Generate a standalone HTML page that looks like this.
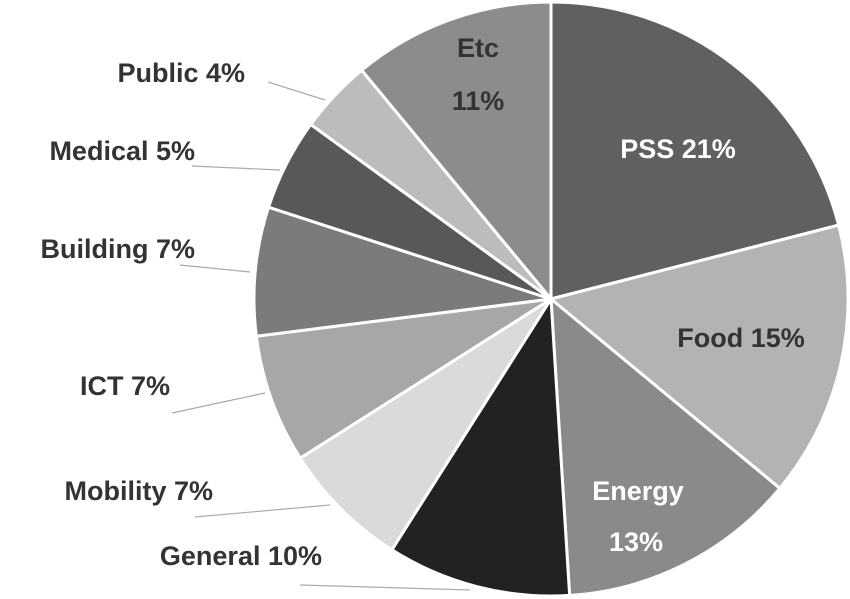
<!DOCTYPE html>
<html><head><meta charset="utf-8"><style>
html,body{margin:0;padding:0;background:#fff;}
svg{display:block;}
text{font-family:"Liberation Sans",sans-serif;font-weight:bold;font-size:27px;}
</style></head><body>
<svg id="chart" width="850" height="599" viewBox="0 0 850 599"></svg>
<script>
const categories=["PSS","Food","Energy","General","Mobility","ICT","Building","Medical","Public","Etc"];
const values=[21,15,13,10,7,7,7,5,4,11];
const colors=["#606060","#b3b3b3","#8a8a8a","#222222","#dadada","#a7a7a7","#7b7b7b","#585858","#bcbcbc","#8c8c8c"];
const cx=551,cy=299,r=297;
const NS="http://www.w3.org/2000/svg";
const svg=document.getElementById('chart');
const total=values.reduce((a,b)=>a+b,0);
function pt(a,rr){return [cx+rr*Math.sin(a),cy-rr*Math.cos(a)];}
let acc=0;
values.forEach((v,i)=>{
  const a0=acc/total*2*Math.PI; acc+=v; const a1=acc/total*2*Math.PI;
  const p0=pt(a0,r),p1=pt(a1,r);
  const p=document.createElementNS(NS,'path');
  p.setAttribute('d',`M${cx},${cy}L${p0[0]},${p0[1]}A${r},${r} 0 ${a1-a0>Math.PI?1:0} 1 ${p1[0]},${p1[1]}Z`);
  p.setAttribute('fill',colors[i]);p.setAttribute('stroke','#fff');p.setAttribute('stroke-width','3');
  
  
  svg.appendChild(p);
});
// leader lines
const leaders=[[268,82,325,100],[192,166,280,170],[180,265,250,272],[172,413,265,393],[195,517,330,505],[300,585,470,590]];
leaders.forEach(l=>{
  const ln=document.createElementNS(NS,'line');
  ln.setAttribute('x1',l[0]);ln.setAttribute('y1',l[1]);ln.setAttribute('x2',l[2]);ln.setAttribute('y2',l[3]);
  ln.setAttribute('stroke','#aaa');ln.setAttribute('stroke-width','1.2');
  
  
  svg.appendChild(ln);
});
// labels: [text, x, y, anchor, color]
const labels=[
 [categories[0]+" "+values[0]+"%",678,158,"middle","#fff"],
 [categories[1]+" "+values[1]+"%",741,347,"middle","#333"],
 [categories[2],638,500,"middle","#fff"],
 [values[2]+"%",636,551,"middle","#fff"],
 [categories[3]+" "+values[3]+"%",322,565,"end","#333"],
 [categories[4]+" "+values[4]+"%",213,500,"end","#333"],
 [categories[5]+" "+values[5]+"%",170,395,"end","#333"],
 [categories[6]+" "+values[6]+"%",195,258,"end","#333"],
 [categories[7]+" "+values[7]+"%",195,160,"end","#333"],
 [categories[8]+" "+values[8]+"%",245,82,"end","#333"],
 [categories[9],478,57,"middle","#333"],
 [values[9]+"%",478,110,"middle","#333"]
];
labels.forEach(l=>{
  const t=document.createElementNS(NS,'text');
  t.textContent=l[0];
  t.setAttribute('x',l[1]);t.setAttribute('y',l[2]);
  t.setAttribute('text-anchor',l[3]);t.setAttribute('fill',l[4]);
  t.setAttribute('textLength','');t.removeAttribute('textLength');
  
  
  svg.appendChild(t);
});
</script>
</body></html>
